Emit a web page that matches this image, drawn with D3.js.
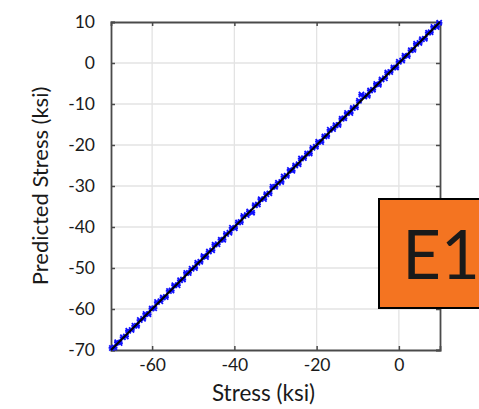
<!DOCTYPE html>
<html>
<head>
<meta charset="utf-8">
<script src="https://cdn.jsdelivr.net/npm/d3@7"></script>
<style>
  body { margin: 0; background: #fff; }
  text { font-family: Lato, "Open Sans", sans-serif; fill: #1a1a1a; }
</style>
</head>
<body>
<div id="plot"></div>
<script>

// data
  var stress = [-69.8, -69.2, -68.5, -67.9, -67.1, -66.4, -65.8, -65.0, -64.3, -63.7,
                -63.0, -62.2, -61.6, -60.9, -60.1, -59.5, -58.8, -58.0, -57.4, -56.7,
                -55.9, -55.3, -54.6, -53.8, -53.2, -52.5, -51.7, -51.1, -50.4, -49.6,
                -49.0, -48.3, -47.5, -46.9, -46.2, -45.4, -44.8, -44.1, -43.3, -42.7,
                -42.0, -41.2, -40.6, -39.9, -39.1, -38.5, -37.8, -37.0, -36.4, -35.7,
                -35.0, -34.3, -33.6, -32.8, -32.2, -31.5, -30.7, -30.1, -29.4, -28.6,
                -28.0, -27.3, -26.5, -25.9, -25.2, -24.4, -23.8, -23.1, -22.3, -21.7,
                -21.0, -20.2, -19.6, -18.9, -18.1, -17.5, -16.8, -16.0, -15.4, -14.7,
                -13.9, -13.3, -12.6, -11.8, -11.2, -10.5, -9.7, -9.1, -8.4, -7.6,
                -7.0, -6.3, -5.5, -4.9, -4.2, -3.4, -2.8, -2.1, -1.3, -0.7,
                0.0, 0.8, 1.4, 2.1, 2.9, 3.5, 4.2, 5.0, 5.6, 6.3,
                7.1, 7.7, 8.4, 9.2, 9.8];
  var predicted = [-69.5, -69.4, -68.1, -68.3, -66.9, -66.7, -65.3, -65.1, -64.1, -64.1,
                -62.7, -62.4, -61.2, -61.3, -59.9, -59.8, -58.3, -58.1, -57.2, -57.1,
                -55.6, -55.5, -54.2, -54.2, -53.0, -52.8, -51.2, -51.2, -50.2, -50.0,
                -48.7, -48.5, -47.1, -47.3, -46.0, -45.7, -44.3, -44.2, -43.1, -43.1,
                -41.7, -41.4, -40.2, -40.3, -38.9, -38.8, -37.3, -37.1, -36.2, -36.5,
                -34.7, -34.5, -33.2, -33.2, -32.0, -31.8, -30.2, -30.2, -29.2, -29.0,
                -27.7, -27.5, -26.1, -26.3, -25.0, -24.7, -23.3, -23.2, -22.1, -22.1,
                -20.7, -20.4, -19.2, -19.3, -17.9, -17.8, -16.3, -16.1, -15.2, -15.1,
                -13.6, -13.5, -12.2, -12.2, -11.0, -10.8, -9.2, -7.7, -8.2, -8.0,
                -6.7, -6.5, -5.1, -5.3, -4.0, -3.7, -2.3, -2.2, -1.1, -1.1,
                0.3, 0.6, 1.8, 1.7, 3.1, 3.2, 4.7, 4.9, 5.8, 5.9,
                7.4, 7.5, 8.8, 8.8, 9.8];

  var yTicks = [10, 0, -10, -20, -30, -40, -50, -60, -70];
  var xTicks = [-60, -40, -20, 0];
  var xGrid = [-60, -40, -20, 0];
  var yGrid = [0, -10, -20, -30, -40, -50, -60];
  var badge = "E1";

  var w = 479;
  var h = 409;
  var margin = {top: 22, right: 39, bottom: 59, left: 111};
  var innerWidth = w - margin.left - margin.right;
  var innerHeight = h - margin.top - margin.bottom;

  var xScale = d3.scaleLinear()
      .domain([-70, 10])
      .range([0, innerWidth]);

  var yScale = d3.scaleLinear()
      .domain([-70, 10])
      .range([innerHeight, 0]);

  var svg = d3.select("div#plot")
    .append("svg")
      .attr("width", w)
      .attr("height", h);

  var g = svg.append("g")
      .attr("transform", `translate(${margin.left}, ${margin.top})`);

// grid

  g.selectAll(".vgrid")
      .data(xGrid)
    .enter().append("line")
      .attr("x1", d => xScale(d))
      .attr("x2", d => xScale(d))
      .attr("y1", 0)
      .attr("y2", innerHeight)
      .attr("stroke", "#e3e3e3")
      .attr("stroke-width", 1.3);

  g.selectAll(".hgrid")
      .data(yGrid)
    .enter().append("line")
      .attr("x1", 0)
      .attr("x2", innerWidth)
      .attr("y1", d => yScale(d))
      .attr("y2", d => yScale(d))
      .attr("stroke", "#e3e3e3")
      .attr("stroke-width", 1.3);

// axes with inward ticks on all four sides

  var axisColor = "#4a4a4a";
  var fmt = d => String(d);

  var axLeft = g.append("g")
      .call(d3.axisLeft(yScale).tickValues(yTicks).tickSize(-4).tickPadding(16).tickFormat(fmt));
  var axRight = g.append("g")
      .attr("transform", `translate(${innerWidth},0)`)
      .call(d3.axisRight(yScale).tickValues(yTicks).tickSize(-4).tickFormat(""));
  var axBottom = g.append("g")
      .attr("transform", `translate(0,${innerHeight})`)
      .call(d3.axisBottom(xScale).tickValues(xTicks).tickSize(-4).tickPadding(9).tickFormat(fmt));
  var axTop = g.append("g")
      .call(d3.axisTop(xScale).tickValues(xTicks).tickSize(-4).tickFormat(""));

  axRight.selectAll("text").remove();
  axTop.selectAll("text").remove();

  [axLeft, axRight, axBottom, axTop].forEach(function(a) {
      a.select(".domain").attr("stroke", axisColor).attr("stroke-width", 1.8);
      a.selectAll(".tick line").attr("stroke", axisColor).attr("stroke-width", 1.5);
      a.selectAll("text").attr("font-size", 17.5).attr("fill", "#1a1a1a")
          .attr("font-family", "Lato, 'Open Sans', sans-serif");
  });

// points

  var pts = d3.range(stress.length).map(i => [stress[i], predicted[i]]);

  g.append("g").selectAll("path")
      .data(pts)
    .enter().append("path")
      .attr("transform", d => `translate(${xScale(d[0])},${yScale(d[1])})`)
      .attr("d", "M-2.6,-2.6L2.6,2.6M-2.6,2.6L2.6,-2.6M-3.2,0L3.2,0")
      .attr("stroke", "#1010ff")
      .attr("stroke-width", 1.8)
      .attr("fill", "none");

  g.append("line")
      .attr("x1", xScale(-70))
      .attr("y1", yScale(-70))
      .attr("x2", xScale(10))
      .attr("y2", yScale(10))
      .attr("stroke", "#000")
      .attr("stroke-width", 2);

// axis titles

  svg.append("text")
      .attr("x", margin.left + innerWidth / 2 - 12)
      .attr("y", 401)
      .attr("text-anchor", "middle")
      .attr("font-size", 22.5)
      .text("Stress (ksi)");

  svg.append("text")
      .attr("transform", `translate(48, ${margin.top + innerHeight / 2}) rotate(-90)`)
      .attr("text-anchor", "middle")
      .attr("font-size", 22)
      .text("Predicted Stress (ksi)");

// badge

  svg.append("rect")
      .attr("x", 379)
      .attr("y", 199)
      .attr("width", 104)
      .attr("height", 109)
      .attr("fill", "#f47421")
      .attr("stroke", "#000")
      .attr("stroke-width", 2);

  svg.append("text")
      .attr("x", 441)
      .attr("y", 279)
      .attr("text-anchor", "middle")
      .attr("font-size", 67)
      .attr("fill", "#000")
      .text(badge);

</script>
</body>
</html>
